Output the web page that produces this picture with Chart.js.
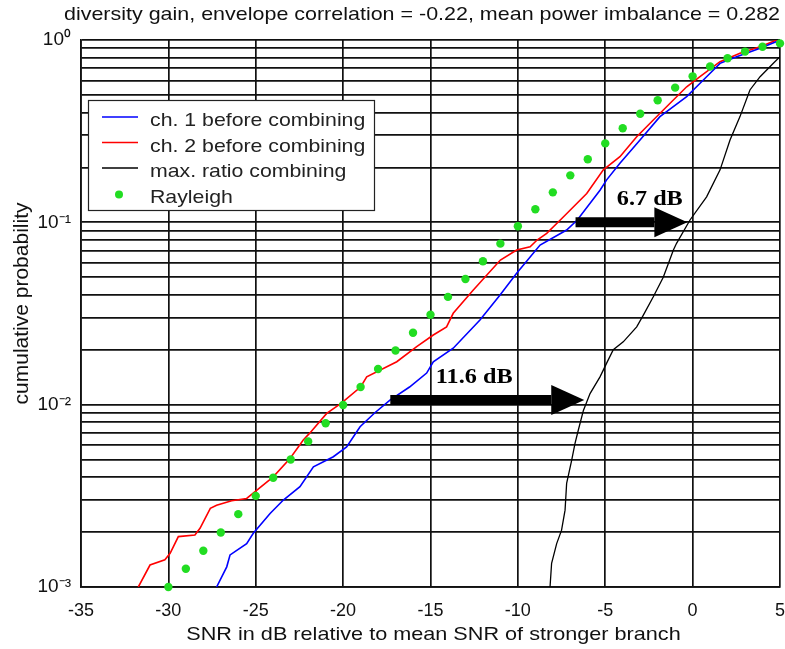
<!DOCTYPE html>
<html>
<head>
<meta charset="utf-8">
<script src="https://cdn.jsdelivr.net/npm/chart.js@4.4.1/dist/chart.umd.min.js"></script>
<style>
  html, body { margin: 0; padding: 0; background: #fff; }
  #wrap { width: 785px; height: 649px; }
</style>
</head>
<body>
<div id="wrap"><canvas id="c" width="785" height="649"></canvas></div>
<script>
// ---------------- data ----------------
const chartTitle = 'diversity gain, envelope correlation = -0.22, mean power imbalance = 0.282';
const xAxisTitle = 'SNR in dB relative to mean SNR of stronger branch';
const yAxisTitle = 'cumulative probability';
const seriesNames = ['ch. 1 before combining', 'ch. 2 before combining', 'max. ratio combining', 'Rayleigh'];

const ch1X = [-27.24,-26.66,-26.47,-25.52,-25.14,-24.18,-23.42,-22.47,-21.7,-20.56,-19.8,-19.03,-18.2,-17.32,-16.2,-15.22,-14.84,-13.7,-12.17,-11.02,-10.07,-8.73,-7.21,-6.6,-5.3,-4.92,-4.16,-3.01,-1.87,-0.34,0.8,1.57,2.52,3.86,4.81];
const ch1P = [0.001,0.00129,0.0015,0.00173,0.00197,0.00253,0.0030,0.00355,0.00456,0.00518,0.00587,0.00757,0.0090,0.0106,0.0125,0.0149,0.0172,0.0204,0.0291,0.040,0.0525,0.075,0.0907,0.103,0.150,0.171,0.211,0.283,0.38,0.489,0.629,0.745,0.81,0.90,0.98];

const ch2X = [-31.72,-31.05,-30.2,-29.9,-29.43,-28.48,-28.19,-27.6,-27.24,-26.38,-25.52,-25.04,-24.0,-23.04,-22.28,-21.9,-20.94,-20.1,-19.0,-18.65,-16.93,-15.79,-14.84,-14.08,-13.7,-12.55,-11.0,-10.07,-9.3,-8.9,-8.35,-7.4,-6.06,-5.11,-4.16,-3.2,-2.25,-1.29,-0.34,0.42,1.57,2.71,3.86,4.81];
const ch2P = [0.001,0.00132,0.00141,0.00153,0.00189,0.00193,0.0021,0.0027,0.00281,0.00297,0.00306,0.00333,0.00402,0.00507,0.0064,0.0070,0.00896,0.0102,0.0125,0.0142,0.0172,0.0208,0.0241,0.0267,0.0317,0.0425,0.0621,0.0705,0.0735,0.080,0.087,0.107,0.144,0.194,0.229,0.295,0.364,0.45,0.554,0.629,0.76,0.845,0.918,1.0];

const mrcX = [-8.16,-8.07,-7.78,-7.5,-7.3,-7.21,-6.92,-6.73,-6.54,-6.25,-5.87,-5.3,-4.92,-4.54,-3.97,-3.2,-2.82,-2.25,-1.68,-1.1,-0.92,-0.15,0.8,1.57,2.14,2.71,3.28,3.86,4.62,5.0];
const mrcP = [0.001,0.00135,0.00173,0.00205,0.00264,0.0037,0.00496,0.00613,0.00726,0.0093,0.0115,0.0142,0.0169,0.020,0.0221,0.0267,0.031,0.0391,0.050,0.0705,0.0767,0.103,0.138,0.194,0.283,0.38,0.532,0.629,0.745,0.81];

const rayX = [-30,-29,-28,-27,-26,-25,-24,-23,-22,-21,-20,-19,-18,-17,-16,-15,-14,-13,-12,-11,-10,-9,-8,-7,-6,-5,-4,-3,-2,-1,0,1,2,3,4,5];
const rayP = [0.0010,0.00126,0.00158,0.00199,0.00251,0.00316,0.00397,0.00500,0.00629,0.00791,0.00995,0.0125,0.0157,0.0198,0.0248,0.0311,0.0390,0.0489,0.0612,0.0764,0.0952,0.118,0.146,0.181,0.222,0.271,0.328,0.394,0.467,0.548,0.632,0.716,0.794,0.864,0.919,0.958];

const xMin = -35, xMax = 5, xStep = 5;
const yDecades = [-3, -2, -1, 0];            // labelled powers of ten
const yTickLabels = ['10\u207B\u00B3', '10\u207B\u00B2', '10\u207B\u00B9', '10\u2070'];

// annotation arrows (data units)
const arrowTailX = [-6.7, -17.3];
const arrowTipX  = [-0.3, -6.2];
const arrowP     = [0.1, 0.0106];
const arrowLabels = ['6.7 dB', '11.6 dB'];
const arrowLabelX = [-2.45, -12.5];

// ---------------- helpers ----------------
const pts = (xs, ys) => xs.map((x, i) => ({ x: x, y: ys[i] }));
const FONT = '"Liberation Sans", Arial, Helvetica, sans-serif';

function stretchedText(ctx, text, x, y, align, k) {
  ctx.save();
  const w = ctx.measureText(text).width * k;
  let x0 = x;
  if (align === 'center') x0 = x - w / 2;
  else if (align === 'right') x0 = x - w;
  ctx.translate(x0, y);
  ctx.scale(k, 1);
  ctx.textAlign = 'left';
  ctx.fillText(text, 0, 0);
  ctx.restore();
}

const overlay = {
  id: 'overlay',
  afterDraw(chart) {
    const ctx = chart.ctx;
    const xs = chart.scales.x, ys = chart.scales.y;
    const area = chart.chartArea;
    ctx.save();

    // title
    ctx.fillStyle = '#111';
    ctx.font = '19px ' + FONT;
    ctx.textBaseline = 'middle';
    stretchedText(ctx, chartTitle, 422, 15, 'center', 1.13);

    // axis titles
    ctx.font = '18.5px ' + FONT;
    stretchedText(ctx, xAxisTitle, (area.left + area.right) / 2 + 3, 635, 'center', 1.17);
    ctx.save();
    ctx.translate(22, (area.top + area.bottom) / 2 - 10);
    ctx.rotate(-Math.PI / 2);
    ctx.font = '21px ' + FONT;
    ctx.textAlign = 'center';
    ctx.textBaseline = 'middle';
    ctx.fillText(yAxisTitle, 0, 0);
    ctx.restore();

    // arrows
    ctx.fillStyle = '#000';
    for (let i = 0; i < arrowTailX.length; i++) {
      const x0 = xs.getPixelForValue(arrowTailX[i]);
      const x1 = xs.getPixelForValue(arrowTipX[i]);
      const y = ys.getPixelForValue(arrowP[i]);
      const headLen = 33, headHalf = 15, shaftHalf = 5;
      ctx.beginPath();
      ctx.rect(x0, y - shaftHalf, (x1 - headLen) - x0, shaftHalf * 2);
      ctx.fill();
      ctx.beginPath();
      ctx.moveTo(x1 - headLen, y - headHalf);
      ctx.lineTo(x1, y);
      ctx.lineTo(x1 - headLen, y + headHalf);
      ctx.closePath();
      ctx.fill();
      ctx.font = 'bold 22px "Liberation Serif", "Times New Roman", serif';
      ctx.textBaseline = 'middle';
      stretchedText(ctx, arrowLabels[i], xs.getPixelForValue(arrowLabelX[i]), y - 23, 'center', 1.1);
    }

    // legend box
    const lx = 88, ly = 100, lw = 286, lh = 110;
    ctx.fillStyle = '#fff';
    ctx.fillRect(lx, ly, lw, lh);
    ctx.strokeStyle = '#222';
    ctx.lineWidth = 1.2;
    ctx.strokeRect(lx + 0.5, ly + 0.5, lw, lh);
    const colors = ['#0000ff', '#ff0000', '#000000', '#22dd22'];
    ctx.font = '19px ' + FONT;
    ctx.textBaseline = 'middle';
    for (let i = 0; i < seriesNames.length; i++) {
      const cy = ly + 21 + i * 25.5;
      if (i < 3) {
        ctx.strokeStyle = colors[i];
        ctx.lineWidth = 1.6;
        ctx.beginPath();
        ctx.moveTo(102, cy - 4);
        ctx.lineTo(138, cy - 4);
        ctx.stroke();
      } else {
        ctx.fillStyle = colors[i];
        ctx.beginPath();
        ctx.arc(119, cy - 3, 4, 0, Math.PI * 2);
        ctx.fill();
      }
      ctx.fillStyle = '#222';
      stretchedText(ctx, seriesNames[i], 150, cy, 'left', 1.12);
    }
    ctx.restore();
  }
};

new Chart(document.getElementById('c'), {
  type: 'line',
  data: {
    datasets: [
      { label: seriesNames[3], data: pts(rayX, rayP), showLine: false, pointRadius: 4.2,
        pointBackgroundColor: '#22dd22', pointBorderWidth: 0, borderColor: '#22dd22', order: 0, clip: false },
      { label: seriesNames[0], data: pts(ch1X, ch1P), borderColor: '#0000ff', borderWidth: 1.6, pointRadius: 0, tension: 0, order: 1 },
      { label: seriesNames[1], data: pts(ch2X, ch2P), borderColor: '#ff0000', borderWidth: 1.6, pointRadius: 0, tension: 0, order: 1 },
      { label: seriesNames[2], data: pts(mrcX, mrcP), borderColor: '#000000', borderWidth: 1.3, pointRadius: 0, tension: 0, order: 1 }
    ]
  },
  options: {
    responsive: false,
    animation: false,
    devicePixelRatio: 1,
    layout: { padding: { top: 40, right: 5, left: 0, bottom: 0 } },
    plugins: { legend: { display: false }, title: { display: false }, tooltip: { enabled: false } },
    scales: {
      x: {
        type: 'linear', min: xMin, max: xMax,
        ticks: { stepSize: xStep, color: '#111', font: { family: FONT, size: 18 }, padding: 13 },
        grid: { color: '#111', lineWidth: 1.7, drawTicks: false },
        border: { color: '#111', width: 1.7 },
        title: { display: false },
        afterFit(s) { s.height = 62; s.paddingRight = 0; s.paddingLeft = 0; }
      },
      y: {
        type: 'logarithmic', min: 0.001, max: 1,
        afterBuildTicks(s) {
          const t = [];
          for (let d = yDecades[0]; d < yDecades[yDecades.length - 1]; d++) {
            for (let m = 1; m <= 9; m++) t.push({ value: m * Math.pow(10, d) });
          }
          t.push({ value: 1 });
          s.ticks = t;
        },
        ticks: {
          autoSkip: false, color: '#111', font: { family: FONT, size: 19 }, padding: 10,
          callback(v) {
            const e = Math.log10(v);
            const r = Math.round(e);
            if (Math.abs(e - r) > 1e-6) return '';
            const idx = yDecades.indexOf(r);
            return idx >= 0 ? yTickLabels[idx] : '';
          }
        },
        grid: { color: '#111', lineWidth: 1.7, drawTicks: false },
        border: { color: '#111', width: 1.7 },
        title: { display: false },
        afterFit(s) { s.width = 81; s.paddingTop = 0; s.paddingBottom = 0; }
      }
    }
  },
  plugins: [overlay]
});
</script>
</body>
</html>
